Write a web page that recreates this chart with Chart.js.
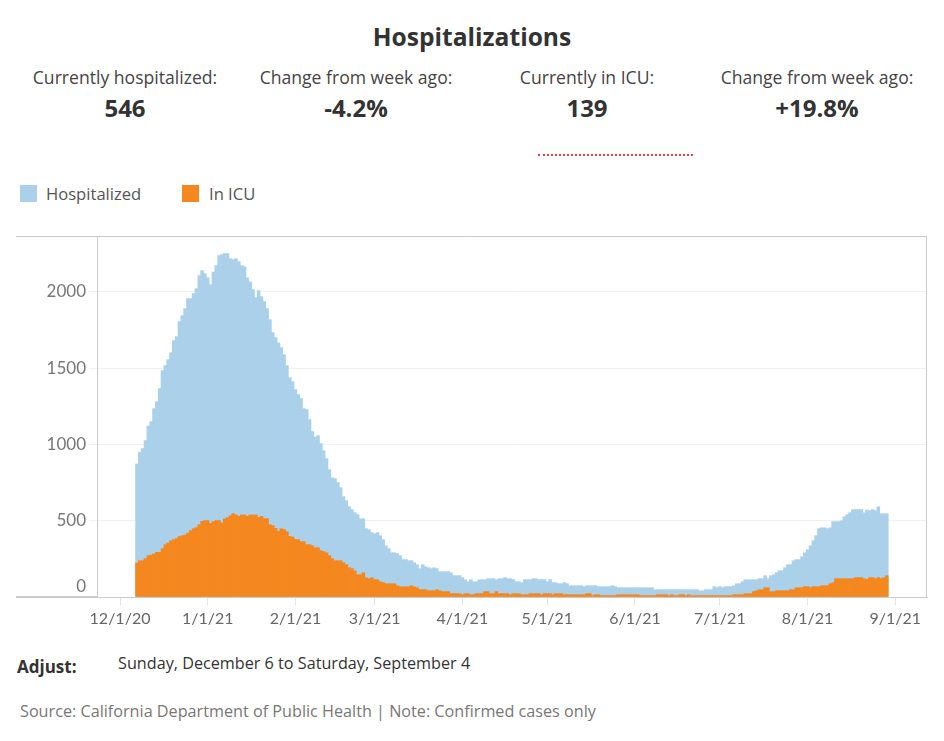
<!DOCTYPE html>
<html>
<head>
<meta charset="utf-8">
<script src="https://cdn.jsdelivr.net/npm/chart.js@4.4.0/dist/chart.umd.min.js"></script>
<style>
html,body{margin:0;padding:0;background:#fff;}
body{width:944px;height:741px;position:relative;overflow:hidden;font-family:"Open Sans",Lato,sans-serif;}
.abs{position:absolute;white-space:nowrap;}
#title{left:0;width:944px;top:21px;text-align:center;font-size:24.6px;font-weight:700;color:#333;line-height:32px;}
.stat{width:300px;text-align:center;}
.lbl{top:65px;font-size:17.6px;line-height:24px;color:#444;}
.val{top:92px;font-size:24px;font-weight:700;line-height:32px;color:#333;}
#dots{left:538px;top:154px;width:155px;height:0;border-top:2px dotted #f03c3c;}
.sw{width:17px;height:17px;top:185px;}
.leg{top:183px;font-size:16.6px;line-height:22px;color:#555;}
#adj{left:17px;top:656px;font-size:17px;font-weight:700;line-height:22px;color:#333;}
#range{left:118px;top:652px;font-size:16.2px;line-height:22px;color:#333;}
#src{left:20px;top:700px;font-size:16.2px;line-height:22px;color:#777;}
#wrap{position:absolute;left:0;top:216px;width:944px;height:421px;}
</style>
</head>
<body>
<div id="title" class="abs">Hospitalizations</div>
<div class="abs stat lbl" style="left:-25px">Currently hospitalized:</div>
<div class="abs stat lbl" style="left:206px">Change from week ago:</div>
<div class="abs stat lbl" style="left:437px">Currently in ICU:</div>
<div class="abs stat lbl" style="left:667px">Change from week ago:</div>
<div class="abs stat val" style="left:-25px">546</div>
<div class="abs stat val" style="left:206px">-4.2%</div>
<div class="abs stat val" style="left:437px">139</div>
<div class="abs stat val" style="left:667px">+19.8%</div>
<div id="dots" class="abs"></div>
<div class="abs sw" style="left:20px;background:#abd0ea"></div>
<div class="abs leg" style="left:46px">Hospitalized</div>
<div class="abs sw" style="left:182px;background:#f5871f"></div>
<div class="abs leg" style="left:209px">In ICU</div>
<div id="wrap"><canvas id="c"></canvas></div>
<div id="adj" class="abs">Adjust:</div>
<div id="range" class="abs">Sunday, December 6 to Saturday, September 4</div>
<div id="src" class="abs">Source: California Department of Public Health | Note: Confirmed cases only</div>
<script>
// Daily values, first bar dated 2020-12-07, one value per day
const firstDate = '2020-12-07';
const hospitalized = [
 872,949,973,1025,1121,1150,1235,1281,1366,1484,
 1517,1556,1602,1681,1707,1806,1845,1891,1956,1956,
 1989,2022,2107,2140,2120,2092,2048,2131,2173,2238,
 2245,2251,2251,2219,2212,2219,2199,2173,2166,2092,
 2066,2015,1963,2009,1970,1937,1891,1819,1733,1701,
 1666,1635,1589,1517,1438,1412,1360,1327,1301,1235,
 1229,1163,1084,1049,1058,1006,959,907,835,782,
 776,750,717,658,632,592,573,553,540,513,
 513,448,441,422,415,422,402,376,336,317,
 290,290,284,271,245,245,238,238,225,212,
 186,212,199,192,186,192,186,166,166,166,
 166,159,140,140,140,127,113,100,113,100,
 100,113,113,113,120,120,120,113,120,120,
 127,120,120,114,100,100,94,114,114,114,
 120,120,114,114,114,100,114,94,94,87,
 87,94,87,74,74,74,74,74,68,74,
 74,74,74,68,68,68,68,68,74,68,
 61,61,61,61,61,61,61,61,61,61,
 61,61,61,48,48,48,48,48,48,48,
 48,48,48,48,48,48,48,48,48,41,
 41,48,48,48,68,61,68,61,68,68,
 68,74,87,87,100,113,113,113,113,113,
 120,120,140,120,140,146,159,172,172,192,
 212,212,238,245,245,264,290,310,336,369,
 402,448,454,454,448,454,494,494,494,500,
 526,540,553,573,573,573,573,553,570,566,
 573,566,592,546,546,546
];
const inICU = [
 223,238,238,251,271,275,282,293,293,317,
 343,354,369,376,383,396,402,407,420,435,
 448,455,474,496,501,501,483,494,501,501,
 485,512,520,533,547,538,529,538,538,529,
 538,538,538,522,529,514,514,474,468,450,
 431,448,442,428,398,393,378,376,363,363,
 343,343,336,323,323,304,297,290,271,251,
 238,238,238,225,212,192,186,172,146,146,
 159,126,120,126,113,113,100,94,87,87,
 87,87,74,67,67,67,67,74,67,61,
 48,48,48,41,41,41,48,41,35,35,
 35,22,22,22,22,15,22,22,15,15,
 22,22,22,35,35,22,22,35,22,22,
 22,22,15,22,22,22,15,15,15,22,
 22,22,22,15,22,22,22,15,22,22,
 22,15,15,15,15,15,15,15,15,22,
 22,9,15,15,9,9,9,9,9,9,
 15,15,15,15,15,15,15,15,9,9,
 9,9,9,9,15,15,15,15,9,15,
 9,9,15,15,9,15,9,9,9,9,
 9,9,9,9,9,9,9,9,9,9,
 9,15,15,15,15,22,22,22,35,41,
 48,48,61,61,35,35,41,41,41,41,
 41,48,48,61,61,61,68,68,61,68,
 68,68,74,74,74,87,94,120,120,120,
 120,120,120,120,127,127,127,120,116,127,
 127,120,127,120,127,139
];
const tickDates = ['2020-12-01','2021-01-01','2021-02-01','2021-03-01','2021-04-01','2021-05-01','2021-06-01','2021-07-01','2021-08-01','2021-09-01'];
const tickLabels = ['12/1/20','1/1/21','2/1/21','3/1/21','4/1/21','5/1/21','6/1/21','7/1/21','8/1/21','9/1/21'];
const yTicks = [0,500,1000,1500,2000];
const seriesNames = ['Hospitalized','In ICU'];
const seriesColors = ['#abd0ea','#f5871f'];

const DAY = 86400000;
const origin = Date.parse('2020-12-01T00:00:00Z');
const dayNum = s => Math.round((Date.parse(s + 'T00:00:00Z') - origin) / DAY);
const first = dayNum(firstDate);
const points = arr => arr.map((v, i) => ({x: first + i, y: v}));

const frame = {
  id: 'frame',
  afterDraw(chart) {
    const {ctx, chartArea: a} = chart;
    ctx.save();
    ctx.strokeStyle = '#cbcbcb';
    ctx.lineWidth = 1;
    ctx.beginPath();
    ctx.moveTo(16, a.top + 0.5); ctx.lineTo(a.right, a.top + 0.5);
    ctx.moveTo(a.right - 0.5, a.top); ctx.lineTo(a.right - 0.5, a.bottom);
    ctx.stroke();
    ctx.lineWidth = 2;
    ctx.beginPath();
    ctx.moveTo(16, a.bottom); ctx.lineTo(a.left, a.bottom);
    ctx.stroke();
    ctx.restore();
  }
};

new Chart(document.getElementById('c'), {
  type: 'bar',
  data: {
    datasets: [
      {label: seriesNames[1], data: points(inICU), backgroundColor: seriesColors[1], order: 0},
      {label: seriesNames[0], data: points(hospitalized), backgroundColor: seriesColors[0], order: 1}
    ]
  },
  options: {
    responsive: true,
    maintainAspectRatio: false,
    animation: false,
    layout: {padding: {top: 20, right: 17, left: 0, bottom: 0}},
    datasets: {bar: {barPercentage: 1, categoryPercentage: 1, borderWidth: 0}},
    plugins: {legend: {display: false}, tooltip: {enabled: false}},
    scales: {
      x: {
        type: 'linear', stacked: true, offset: false,
        min: -8.13, max: 285.2,
        afterBuildTicks: s => { s.ticks = tickDates.map(d => ({value: dayNum(d)})); },
        ticks: {autoSkip: false, maxRotation: 0, minRotation: 0,
          callback: (v, i) => tickLabels[i],
          font: {family: 'Lato', size: 16}, color: '#666', padding: 4},
        grid: {drawOnChartArea: false, tickLength: 8, color: '#e3e3e3', offset: false},
        border: {color: '#cbcbcb'},
        afterFit: s => { s.height = 40; }
      },
      y: {
        stacked: false, min: 0, max: 2367,
        afterBuildTicks: s => { s.ticks = yTicks.map(v => ({value: v})); },
        ticks: {callback: v => v === 0 ? ['0', ''] : String(v),
          font: {family: 'Lato', size: 17}, color: '#777', padding: 3},
        grid: {color: c => (c.tick && c.tick.value === 0) ? 'rgba(0,0,0,0)' : '#efefef', tickLength: 8},
        border: {color: '#cbcbcb'},
        afterFit: s => { s.width = 97; }
      }
    }
  },
  plugins: [frame]
});
</script>
</body>
</html>
